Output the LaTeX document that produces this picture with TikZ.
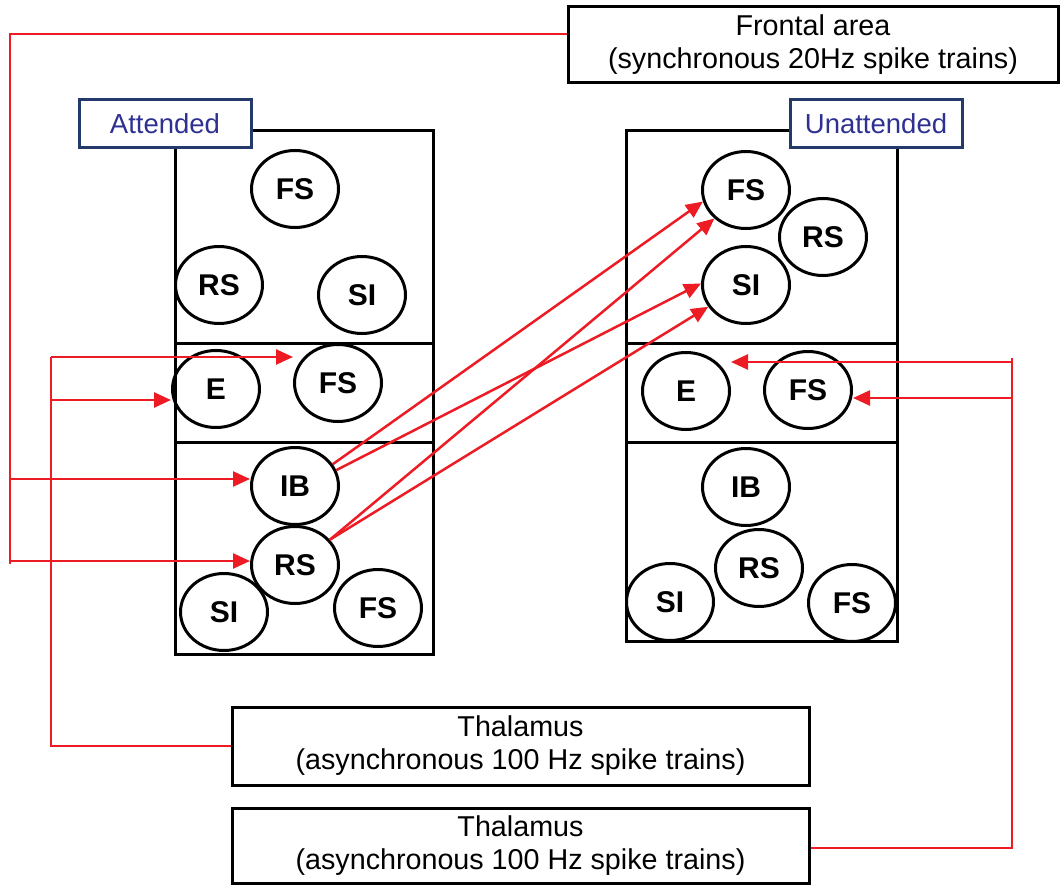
\documentclass[tikz,border=0pt]{standalone}
\usepackage{fontspec}
\setmainfont{Liberation Sans}
\usetikzlibrary{shapes.geometric,arrows.meta}
\definecolor{spike}{RGB}{237,28,36}
\definecolor{tagblue}{RGB}{46,49,146}
\definecolor{tagframe}{RGB}{35,58,106}
\begin{document}
\begin{tikzpicture}[x=1pt,y=-1pt,line width=3pt,
  cell/.style={ellipse,draw,minimum width=87pt,minimum height=77pt,inner sep=0pt,font=\fontsize{30}{33}\bfseries\selectfont},
  source/.style={draw,fill=white,align=center,font=\fontsize{28.7}{33}\selectfont},
  tag/.style={draw=tagframe,fill=white,text=tagblue,minimum width=172pt,minimum height=48pt,inner sep=0pt,font=\fontsize{27.5}{33}\selectfont},
  feed/.style={spike,line width=2.5pt,-{Triangle[length=17pt,width=15pt]}},
  wire/.style={spike,line width=2.5pt}]
\useasboundingbox (0,0) rectangle (1060,885);

% columns
\draw (175,131) rectangle (433,654);
\draw (175,343) -- (433,343);
\draw (175,442) -- (433,442);
\draw (626,131) rectangle (897,641);
\draw (626,343) -- (897,343);
\draw (626,442) -- (897,442);

\node[tag] (att) at (165,123.5) {Attended};
\node[tag] (unatt) at (876,123.5) {Unattended};

% attended cells
\node[cell] (aFS1) at (295,189) {FS};
\node[cell] (aRS1) at (219,285) {RS};
\node[cell] (aSI1) at (362,295) {SI};
\node[cell] (aE) at (216,389) {E};
\node[cell] (aFS2) at (338,383) {FS};
\node[cell] (aIB) at (295,486) {IB};
\node[cell] (aRS2) at (295,565) {RS};
\node[cell] (aSI2) at (224,612) {SI};
\node[cell] (aFS3) at (378,608) {FS};

% unattended cells
\node[cell] (uFS1) at (746,190) {FS};
\node[cell] (uRS1) at (823,237) {RS};
\node[cell] (uSI1) at (746,285) {SI};
\node[cell] (uE) at (686,391) {E};
\node[cell] (uFS2) at (808,390) {FS};
\node[cell] (uIB) at (746,487) {IB};
\node[cell] (uRS2) at (759,568) {RS};
\node[cell] (uSI2) at (670,602) {SI};
\node[cell] (uFS3) at (852,603) {FS};

% inputs
\node[source,minimum width=490pt,minimum height=76pt] (frontal) at (813,45) {Frontal area\\(synchronous 20Hz spike trains)};
\node[source,minimum width=577pt,minimum height=78pt] (thal1) at (520.5,746) {Thalamus\\(asynchronous 100 Hz spike trains)};
\node[source,minimum width=577pt,minimum height=75pt] (thal2) at (520.5,845.5) {Thalamus\\(asynchronous 100 Hz spike trains)};

\coordinate (fTop) at (10,34);
\coordinate (fIB) at (10,479);
\coordinate (fRS) at (10,561);
\coordinate (fEnd) at (10,564);
\coordinate (tTop) at (51,357);
\coordinate (tE) at (51,400);
\coordinate (rTop) at (1012,358);
\coordinate (rE) at (1012,362);
\coordinate (rFS) at (1012,398);
\coordinate (rLow) at (1012,848);

% frontal feedback
\draw[wire] (frontal.west |- fTop) -- (fTop) -- (fEnd);
\draw[feed] (fIB) -- (fIB -| aIB.west);
\draw[feed] (fRS) -- (fRS -| aRS2.west);

% thalamic drive
\draw[wire] (thal1.west) -| (tTop);
\draw[feed] (tTop) -- (tTop -| aFS2.west);
\draw[feed] (tE) -- (tE -| aE.west);
\draw[wire] (thal2.east |- rLow) -- (rLow) -- (rTop);
\draw[feed] (rE) -- (rE -| uE.east);
\draw[feed] (rFS) -- (rFS -| uFS2.east);

% cross-column
\draw[feed] (aIB.30) -- (uFS1.195);
\draw[feed] (aIB.21) -- (uSI1.178);
\draw[feed] (aRS2.36) -- (uFS1.222);
\draw[feed] (aRS2.36) -- (uSI1.210);

\end{tikzpicture}
\end{document}
